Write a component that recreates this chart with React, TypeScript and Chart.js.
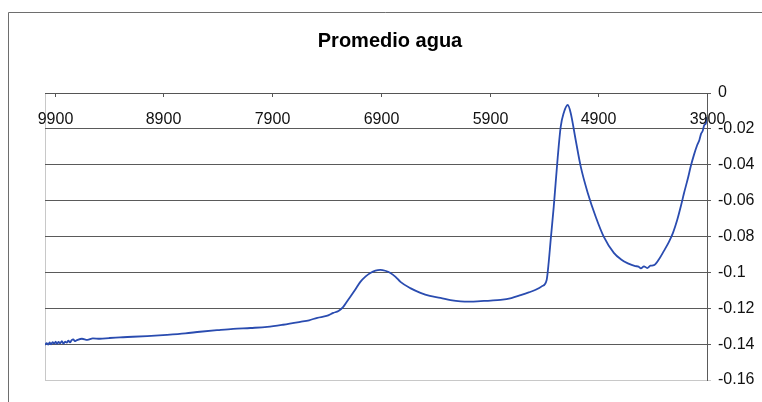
import React, { useEffect, useRef } from "react";
import { Chart, registerables } from "chart.js";

Chart.register(...registerables);

// Spectrum: wavenumber (cm-1) and averaged absorbance
const wavenumbers = [
  9990, 9975, 9960, 9948, 9935, 9920, 9905, 9892, 9880, 9865, 9850, 9835, 9820, 9805, 9790,
  9775, 9760, 9745, 9730, 9715, 9700, 9650, 9600, 9550, 9485,
  9400, 9300, 9181, 9050, 8868, 8700, 8564, 8400, 8259, 8100, 7946, 7800, 7642, 7560, 7485,
  7400, 7338, 7290, 7246, 7215, 7181, 7140, 7089, 7040, 6997, 6950, 6905, 6860, 6812, 6765,
  6720, 6630, 6536, 6450, 6352, 6260, 6167, 6075, 5983, 5890, 5799, 5700, 5614, 5540, 5476,
  5420, 5375, 5356, 5338, 5310, 5273, 5246, 5218, 5181, 5154, 5108, 5061, 4997, 4923, 4849,
  4757, 4690, 4628, 4560, 4530, 4508, 4480, 4450, 4420, 4388, 4340, 4296, 4250, 4213, 4175,
  4140, 4110, 4075, 4050, 4020, 3990, 3970, 3955, 3940, 3925, 3912, 3900,
];
const absorbance = [
  -0.1404, -0.1395, -0.1402, -0.1391, -0.1401, -0.1389, -0.1397, -0.1386, -0.1399, -0.1388,
  -0.1396, -0.1383, -0.1398, -0.1386, -0.1392, -0.1381, -0.139, -0.1378, -0.1374, -0.1383,
  -0.1379, -0.137, -0.1376, -0.1368, -0.137,
  -0.1366, -0.1362, -0.1359, -0.1355, -0.1348, -0.134, -0.1331, -0.1322, -0.1315, -0.131,
  -0.1304, -0.1292, -0.1276, -0.1267, -0.1253, -0.1243, -0.1226, -0.1215, -0.1192, -0.1165,
  -0.1136, -0.11, -0.1053, -0.1022, -0.1003, -0.099, -0.0986, -0.0991, -0.1003, -0.1025,
  -0.1053, -0.1088, -0.1114, -0.1131, -0.1142, -0.1155, -0.1162, -0.1163, -0.116, -0.1157,
  -0.1153, -0.1143, -0.1127, -0.1112, -0.1097, -0.1078, -0.1042, -0.0942, -0.0819, -0.0635,
  -0.0357, -0.0189, -0.0111, -0.0067, -0.0111, -0.0262, -0.0412, -0.0557, -0.0691, -0.0802,
  -0.0891, -0.0928, -0.095, -0.0965, -0.0968, -0.0978, -0.0966, -0.0976, -0.0963, -0.096,
  -0.0925, -0.088, -0.083, -0.078, -0.071, -0.063, -0.0555, -0.0474, -0.041, -0.0345, -0.029,
  -0.0262, -0.0228, -0.0212, -0.0178, -0.0172, -0.0135,
];
const xTickLabels = [9900, 8900, 7900, 6900, 5900, 4900, 3900];
const chartTitle = "Promedio agua";

const FONT = "'Liberation Sans', Arial, sans-serif";

// Frame, plot border, title and the top x-axis drawn inside the plot area
const decorPlugin = {
  id: "decor",
  beforeDraw(chart: any) {
    const { ctx, chartArea } = chart;
    ctx.save();
    ctx.fillStyle = "#ffffff";
    ctx.fillRect(0, 0, chart.width, chart.height);
    // outer frame
    ctx.strokeStyle = "#6e6e6e";
    ctx.lineWidth = 1;
    ctx.beginPath();
    ctx.moveTo(8.5, chart.height);
    ctx.lineTo(8.5, 12.5);
    ctx.lineTo(chart.width, 12.5);
    ctx.stroke();
    // left plot border
    ctx.strokeStyle = "#c8c8c8";
    ctx.beginPath();
    ctx.moveTo(chartArea.left + 0.5, chartArea.top);
    ctx.lineTo(chartArea.left + 0.5, chartArea.bottom);
    ctx.stroke();
    // title
    ctx.fillStyle = "#000";
    ctx.font = `bold 20px ${FONT}`;
    ctx.textAlign = "center";
    ctx.textBaseline = "alphabetic";
    ctx.fillText(chartTitle, 390, 47);
    ctx.restore();
  },
  afterDraw(chart: any) {
    const { ctx, chartArea } = chart;
    const xs = chart.scales.x;
    ctx.save();
    ctx.strokeStyle = "#555";
    ctx.lineWidth = 1;
    ctx.beginPath();
    ctx.moveTo(chartArea.left, chartArea.top + 0.5);
    ctx.lineTo(chartArea.right, chartArea.top + 0.5);
    ctx.stroke();
    ctx.fillStyle = "#111";
    ctx.font = `16px ${FONT}`;
    ctx.textAlign = "center";
    ctx.textBaseline = "middle";
    for (const v of xTickLabels) {
      const px = Math.round(xs.getPixelForValue(v)) + 0.5;
      ctx.beginPath();
      ctx.moveTo(px, chartArea.top);
      ctx.lineTo(px, chartArea.top + 4);
      ctx.stroke();
      ctx.fillText(String(v), px, chartArea.top + 27);
    }
    ctx.restore();
  },
};

export default function App() {
  const canvasRef = useRef<HTMLCanvasElement | null>(null);

  useEffect(() => {
    if (!canvasRef.current) return;
    const points = wavenumbers.map((w, i) => ({ x: w, y: absorbance[i] }));
    const chart = new Chart(canvasRef.current, {
      type: "line",
      data: {
        datasets: [
          {
            data: points,
            borderColor: "#2a4cb0",
            borderWidth: 1.8,
            pointRadius: 0,
            cubicInterpolationMode: "monotone",
            fill: false,
          },
        ],
      },
      plugins: [decorPlugin],
      options: {
        animation: false,
        responsive: true,
        maintainAspectRatio: false,
        layout: { padding: { left: 45, top: 93, right: 0, bottom: 22 } },
        plugins: {
          legend: { display: false },
          title: { display: false },
          tooltip: { enabled: false },
        },
        scales: {
          x: {
            type: "linear",
            display: false,
            reverse: true,
            min: 3900,
            max: 9990,
          },
          y: {
            position: "right",
            min: -0.16,
            max: 0,
            afterFit: (scale: any) => {
              scale.width = 55;
            },
            ticks: {
              stepSize: 0.02,
              padding: 7,
              color: "#111",
              font: { family: FONT, size: 16 },
              callback: (v: any) => String(Number(Number(v).toFixed(2))),
            },
            grid: {
              tickLength: 4,
              color: (c: any) =>
                c.tick && Math.abs(c.tick.value + 0.16) < 1e-9 ? "#c8c8c8" : "#5a5a5a",
            },
            border: { display: true, color: "#5a5a5a" },
          },
        },
      },
    });
    return () => chart.destroy();
  }, []);

  return (
    <div style={{ position: "fixed", left: 0, top: 0, width: 762, height: 402 }}>
      <canvas ref={canvasRef} />
    </div>
  );
}
